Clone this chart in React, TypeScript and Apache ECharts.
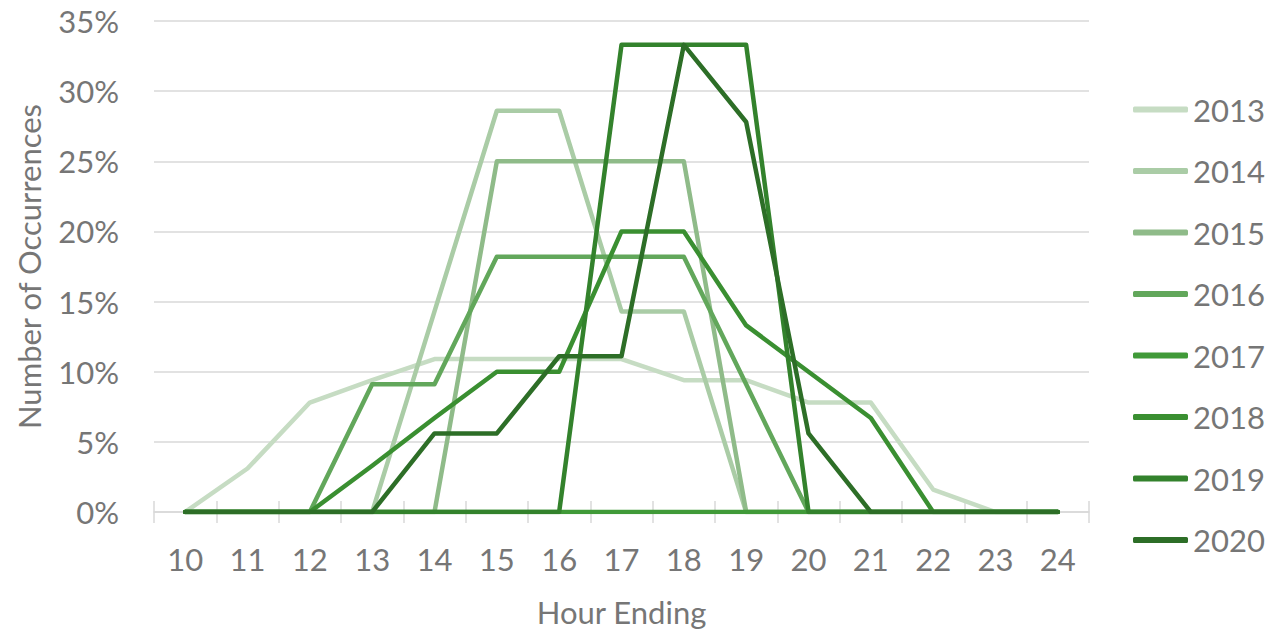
import React, { useEffect, useRef } from "react";
import * as echarts from "echarts";

const hours = ["10", "11", "12", "13", "14", "15", "16", "17", "18", "19", "20", "21", "22", "23", "24"];
const years = ["2013", "2014", "2015", "2016", "2017", "2018", "2019", "2020"];
const colors = ["#c6dcc3", "#aacca6", "#8fbb89", "#62a75b", "#409a38", "#3a8f31", "#33822c", "#2d6e27"];

const s2013 = [0, 3.1, 7.8, 9.4, 10.9, 10.9, 10.9, 10.9, 9.4, 9.4, 7.8, 7.8, 1.6, 0, 0];
const s2014 = [0, 0, 0, 0, 14.3, 28.6, 28.6, 14.3, 14.3, 0, 0, 0, 0, 0, 0];
const s2015 = [0, 0, 0, 0, 0, 25, 25, 25, 25, 0, 0, 0, 0, 0, 0];
const s2016 = [0, 0, 0, 9.1, 9.1, 18.2, 18.2, 18.2, 18.2, 9.1, 0, 0, 0, 0, 0];
const s2017 = [0, 0, 0, 0, 0, 0, 0, 0, 0, 0, 0, 0, 0, 0, 0];
const s2018 = [0, 0, 0, 3.3, 6.7, 10, 10, 20, 20, 13.3, 10, 6.7, 0, 0, 0];
const s2019 = [0, 0, 0, 0, 0, 0, 0, 33.3, 33.3, 33.3, 0, 0, 0, 0, 0];
const s2020 = [0, 0, 0, 0, 5.6, 5.6, 11.1, 11.1, 33.3, 27.8, 5.6, 0, 0, 0, 0];
const seriesData = [s2013, s2014, s2015, s2016, s2017, s2018, s2019, s2020];

const yTicks = { min: 0, max: 35, interval: 5 };

export default function App() {
  const ref = useRef<HTMLDivElement>(null);
  useEffect(() => {
    if (!ref.current) return;
    const chart = echarts.init(ref.current, null, { renderer: "svg" });
    const font = "Lato, 'Open Sans', sans-serif";
    const textColor = "#767676";
    const fs = 31;
    chart.setOption({
      animation: false,
      textStyle: { fontFamily: font },
      grid: { left: 154, right: 186, top: 21, bottom: 123, containLabel: false },
      legend: {
        orient: "vertical",
        left: 1128,
        top: 89,
        itemGap: 30.5,
        itemWidth: 55,
        itemHeight: 6,
        icon: "roundRect",
        textStyle: { fontSize: fs, color: textColor, fontFamily: font, padding: [0, 0, 0, 0] },
        data: years,
      },
      xAxis: [
        {
          type: "category",
          data: hours,
          boundaryGap: true,
          name: "Hour Ending",
          nameLocation: "middle",
          nameGap: 84,
          nameTextStyle: { fontSize: fs, color: textColor, fontFamily: font },
          axisLine: { lineStyle: { color: "#d9d9d9", width: 1.5 } },
          axisTick: { show: true, length: 11, lineStyle: { color: "#d9d9d9", width: 1.5 } },
          axisLabel: { fontSize: fs, color: textColor, margin: 31, fontFamily: font },
        },
        {
          type: "category",
          data: hours,
          boundaryGap: true,
          position: "bottom",
          axisLine: { show: false },
          axisTick: { show: true, inside: true, length: 11, lineStyle: { color: "#d9d9d9", width: 1.5 } },
          axisLabel: { show: false },
        },
      ],
      yAxis: {
        type: "value",
        min: yTicks.min,
        max: yTicks.max,
        interval: yTicks.interval,
        name: "Number of Occurrences",
        nameLocation: "middle",
        nameGap: 110,
        nameTextStyle: { fontSize: fs, color: textColor, fontFamily: font },
        axisLine: { show: false },
        axisTick: { show: false },
        splitLine: { lineStyle: { color: "#d9d9d9", width: 1.5 } },
        axisLabel: { fontSize: fs, color: textColor, margin: 35, formatter: "{value}%", fontFamily: font },
      },
      series: years.map((y, i) => ({
        name: y,
        type: "line",
        data: seriesData[i],
        xAxisIndex: 0,
        symbol: "none",
        showSymbol: false,
        color: colors[i],
        lineStyle: { width: 4.5, color: colors[i], cap: "round", join: "round" },
        itemStyle: { color: colors[i] },
        z: 2 + i,
      })),
    });
    return () => chart.dispose();
  }, []);
  return <div ref={ref} style={{ width: 1275, height: 635, marginLeft: -8, marginTop: -8 }} />;
}
